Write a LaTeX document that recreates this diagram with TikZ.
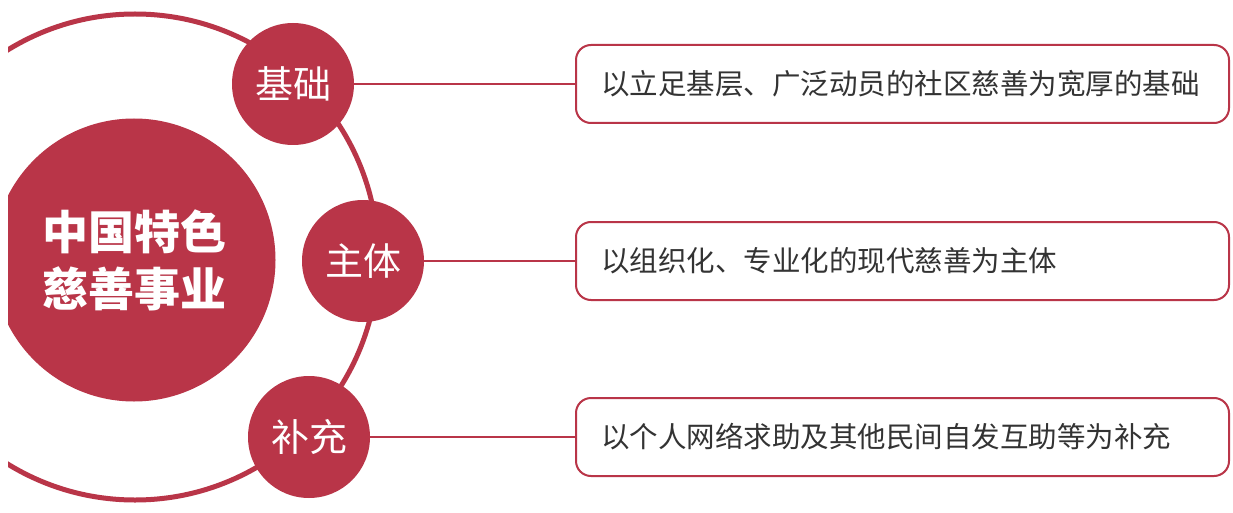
\documentclass[tikz,border=0pt]{standalone}
\usepackage{fontspec}
\newfontfamily\cjk{Noto Sans CJK SC}
\definecolor{crim}{RGB}{185,53,72}
\definecolor{txt}{RGB}{51,51,51}
\begin{document}
\begin{tikzpicture}[x=1pt,y=-1pt,
  bub/.style={circle,fill=crim,minimum size=122pt,inner sep=0pt,text=white,font=\cjk\fontsize{38}{40}\selectfont},
  desc/.style={draw=crim,line width=2pt,rounded corners=15pt,minimum height=78pt,inner xsep=25pt,inner ysep=0pt,anchor=west,fill=white,text=txt,font=\cjk\fontsize{28.5}{30}\selectfont},
  conn/.style={draw=crim,line width=2pt}]
\useasboundingbox (0,0) rectangle (1233,513);
\fill[white] (0,0) rectangle (1233,513);
\begin{scope}
  \clip (8,0) rectangle (1233,513);
  \draw[crim,line width=5pt] (135,257) circle[radius=243pt];
  \node[circle,fill=crim,minimum size=283pt,inner sep=0pt,text=white,align=center,
        font=\cjk\bfseries\fontsize{46}{57}\selectfont] (core) at (134,260) {中国特色\\慈善事业};
\end{scope}
\node[bub] (b1) at (293,84) {基础};
\node[bub] (b2) at (363,261) {主体};
\node[bub] (b3) at (309,437) {补充};
\node[desc] (d1) at (575,84) {\makebox[603pt][l]{以立足基层、广泛动员的社区慈善为宽厚的基础}};
\node[desc] (d2) at (575,261) {\makebox[603pt][l]{以组织化、专业化的现代慈善为主体}};
\node[desc] (d3) at (575,437) {\makebox[603pt][l]{以个人网络求助及其他民间自发互助等为补充}};
\draw[conn] (b1.east) -- (d1.west);
\draw[conn] (b2.east) -- (d2.west);
\draw[conn] (b3.east) -- (d3.west);
\end{tikzpicture}
\end{document}
